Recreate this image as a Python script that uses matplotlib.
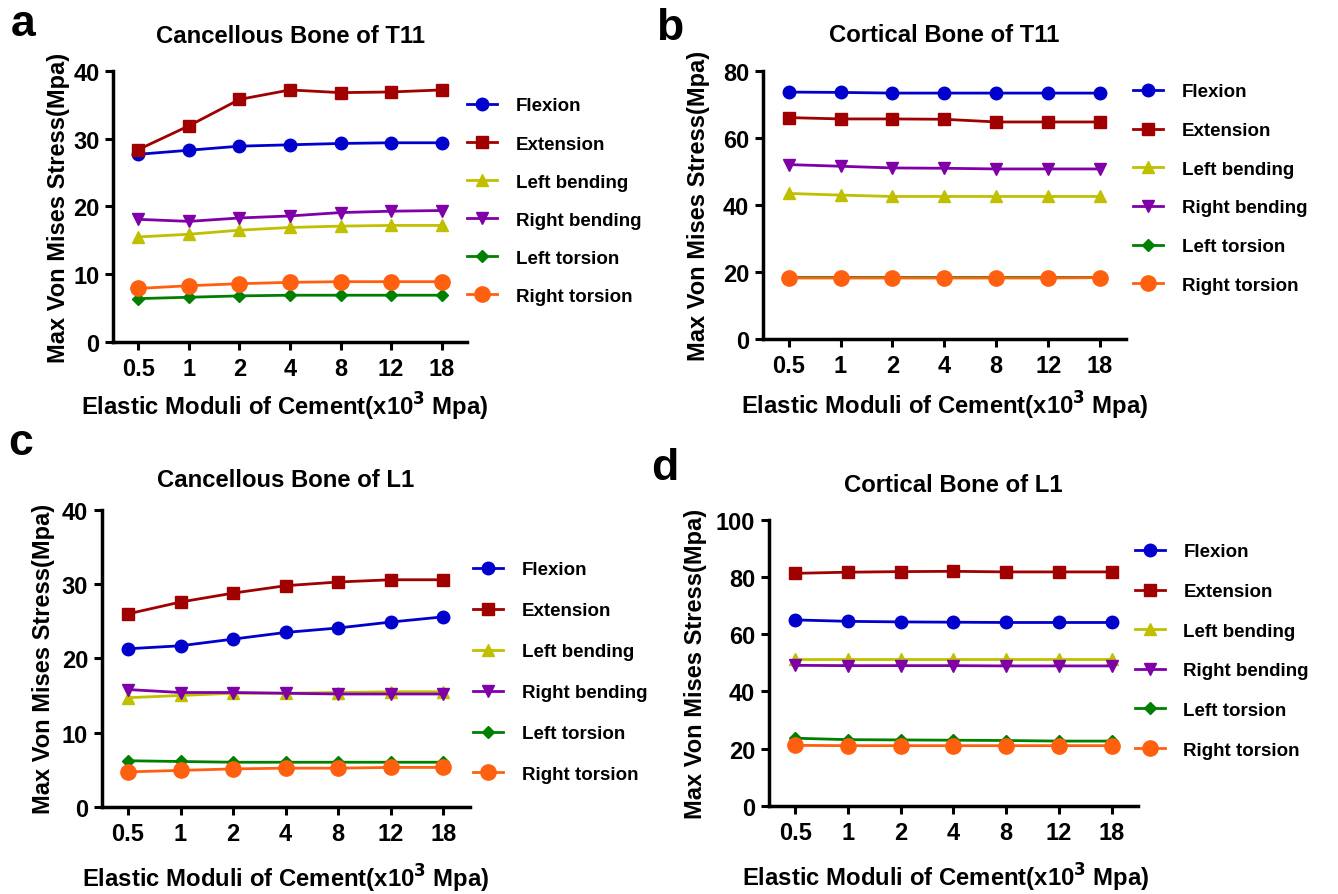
import matplotlib
matplotlib.use("Agg")
import matplotlib.pyplot as plt

plt.rcParams['font.family'] = ['Liberation Sans', 'DejaVu Sans']
plt.rcParams['font.weight'] = 'bold'

# --- DATA ---
moduli = ["0.5", "1", "2", "4", "8", "12", "18"]
series_names = ["Flexion", "Extension", "Left bending", "Right bending", "Left torsion", "Right torsion"]

# a: cancellous bone of T11
t11_canc_flexion = [27.7, 28.3, 28.9, 29.1, 29.3, 29.4, 29.4]
t11_canc_extension = [28.4, 31.9, 35.8, 37.2, 36.8, 36.9, 37.2]
t11_canc_left_bend = [15.5, 15.9, 16.5, 16.9, 17.1, 17.2, 17.2]
t11_canc_right_bend = [18.1, 17.8, 18.3, 18.6, 19.1, 19.3, 19.4]
t11_canc_left_tor = [6.4, 6.6, 6.8, 6.9, 6.9, 6.9, 6.9]
t11_canc_right_tor = [7.9, 8.3, 8.6, 8.8, 8.9, 8.9, 8.9]

# b: cortical bone of T11
t11_cort_flexion = [73.6, 73.5, 73.3, 73.3, 73.3, 73.3, 73.3]
t11_cort_extension = [66.0, 65.6, 65.6, 65.5, 64.7, 64.7, 64.7]
t11_cort_left_bend = [43.4, 42.9, 42.5, 42.5, 42.5, 42.5, 42.5]
t11_cort_right_bend = [52.0, 51.5, 51.0, 50.9, 50.7, 50.7, 50.7]
t11_cort_left_tor = [18.6, 18.6, 18.6, 18.6, 18.6, 18.6, 18.6]
t11_cort_right_tor = [18.2, 18.2, 18.2, 18.2, 18.2, 18.2, 18.3]

# c: cancellous bone of L1
l1_canc_flexion = [21.3, 21.7, 22.6, 23.5, 24.1, 24.9, 25.6]
l1_canc_extension = [26.0, 27.6, 28.8, 29.8, 30.3, 30.6, 30.6]
l1_canc_left_bend = [14.7, 15.0, 15.3, 15.3, 15.4, 15.5, 15.5]
l1_canc_right_bend = [15.8, 15.4, 15.4, 15.3, 15.2, 15.2, 15.2]
l1_canc_left_tor = [6.2, 6.1, 6.0, 6.0, 6.0, 6.0, 6.0]
l1_canc_right_tor = [4.7, 4.9, 5.1, 5.2, 5.2, 5.3, 5.3]

# d: cortical bone of L1
l1_cort_flexion = [65.0, 64.5, 64.3, 64.2, 64.1, 64.1, 64.1]
l1_cort_extension = [81.3, 81.7, 81.9, 82.0, 81.8, 81.8, 81.8]
l1_cort_left_bend = [51.2, 51.2, 51.2, 51.2, 51.2, 51.2, 51.2]
l1_cort_right_bend = [49.1, 49.0, 49.0, 49.0, 48.9, 48.9, 48.9]
l1_cort_left_tor = [23.6, 23.1, 23.0, 22.9, 22.8, 22.6, 22.6]
l1_cort_right_tor = [21.1, 21.0, 21.0, 21.0, 21.0, 21.0, 21.0]

# --- STYLE ---
COLORS = ["#0000CC", "#A00000", "#C0C000", "#8000A8", "#008000", "#FF6010"]
MARKERS = ["o", "s", "^", "v", "D", "o"]
MSIZES = [9, 8.5, 9, 9, 6, 11]

XLABEL = r"Elastic Moduli of Cement(x10$^{\mathbf{3}}$ Mpa)"
YLABEL = "Max Von Mises Stress(Mpa)"

fig = plt.figure(figsize=(13.38, 8.95), dpi=100)


def panel(rect, title, series, ymax, ystep, title_pad, ylab_x, xlab_xy,
          legend_xy, legend_sp, letter, letter_xy):
    ax = fig.add_axes(rect)
    x = list(range(len(moduli)))
    for vals, name, c, m, ms in zip(series, series_names, COLORS, MARKERS, MSIZES):
        ax.plot(x, vals, color=c, marker=m, markersize=ms, linewidth=2,
                markeredgecolor=c, label=name, clip_on=False, zorder=3)
    ax.set_xlim(-0.5, 6.5)
    ax.set_ylim(0, ymax)
    ax.set_xticks(x)
    ax.set_xticklabels(moduli)
    ax.set_yticks(range(0, ymax + 1, ystep))
    for s in ["top", "right"]:
        ax.spines[s].set_visible(False)
    for s in ["left", "bottom"]:
        ax.spines[s].set_linewidth(2.5)
    ax.tick_params(width=2.2, length=5.8, labelsize=17, pad=4)
    ax.tick_params(axis='x', pad=5)
    ax.set_title(title, fontsize=17.2, fontweight='bold', pad=title_pad)
    ax.set_xlabel(XLABEL, fontsize=17.2, fontweight='bold', va='baseline')
    ax.xaxis.set_label_coords(*xlab_xy)
    ax.set_ylabel(YLABEL, fontsize=17, fontweight='bold')
    ax.yaxis.set_label_coords(ylab_x, 0.5)
    ax.legend(loc="upper left", bbox_to_anchor=legend_xy, bbox_transform=fig.transFigure,
              frameon=False, fontsize=13.5, handlelength=1.6, handletextpad=1.0,
              labelspacing=legend_sp, borderaxespad=0, borderpad=0)
    fig.text(letter_xy[0], letter_xy[1], letter, fontsize=32, fontweight='bold',
             ha='left', va='baseline')
    return ax


panel([0.0845, 0.6168, 0.2645, 0.3028], "Cancellous Bone of T11",
      [t11_canc_flexion, t11_canc_extension, t11_canc_left_bend,
       t11_canc_right_bend, t11_canc_left_tor, t11_canc_right_tor],
      40, 10, 21, -0.121, (0.485, -0.269),
      (0.349, 0.8902), 1.12, "a", (0.008, 0.960))

panel([0.570, 0.620, 0.2716, 0.300], "Cortical Bone of T11",
      [t11_cort_flexion, t11_cort_extension, t11_cort_left_bend,
       t11_cort_right_bend, t11_cort_left_tor, t11_cort_right_tor],
      80, 20, 21.4, -0.146, (0.5, -0.276),
      (0.8468, 0.9058), 1.15, "b", (0.490, 0.955))

panel([0.076, 0.0975, 0.275, 0.3315], "Cancellous Bone of L1",
      [l1_canc_flexion, l1_canc_extension, l1_canc_left_bend,
       l1_canc_right_bend, l1_canc_left_tor, l1_canc_right_tor],
      40, 10, 17.3, -0.127, (0.5, -0.269),
      (0.3535, 0.3718), 1.27, "c", (0.006, 0.4916))

panel([0.5747, 0.0987, 0.2758, 0.3193], "Cortical Bone of L1",
      [l1_cort_flexion, l1_cort_extension, l1_cort_left_bend,
       l1_cort_right_bend, l1_cort_left_tor, l1_cort_right_tor],
      100, 20, 20.9, -0.168, (0.48, -0.280),
      (0.848, 0.3918), 1.2, "d", (0.487, 0.4637))

fig.savefig("out.png", dpi=100, facecolor="white")
